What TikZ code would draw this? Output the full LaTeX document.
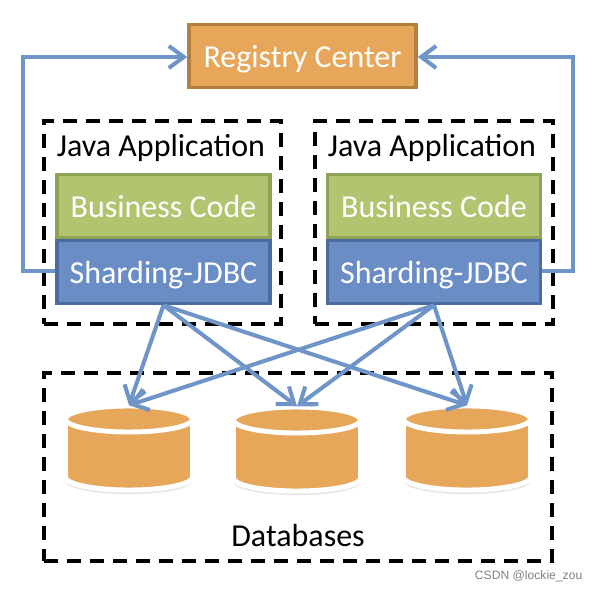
\documentclass[tikz,border=0pt]{standalone}
\usepackage{fontspec}
\setmainfont{Carlito}
\newfontfamily\markfont{Liberation Sans}
\usepackage{tikz}
\usetikzlibrary{positioning,arrows.meta,shadows}
\definecolor{dborange}{HTML}{E7A75B}
\definecolor{regedge}{HTML}{B5803F}
\definecolor{bizgreen}{HTML}{B2C46F}
\definecolor{bizedge}{HTML}{8EA356}
\definecolor{jdbcblue}{HTML}{6A8DC5}
\definecolor{jdbcedge}{HTML}{4A6C9E}
\definecolor{link}{HTML}{6E94C8}
\tikzset{
  layerbox/.style={minimum width=2.13cm, minimum height=0.63cm, line width=1pt, text=white, inner sep=0pt, text height=0.26cm, text depth=0.04cm},
  groupbox/.style={draw=black, line width=1.1pt, dash pattern=on 0.14cm off 0.09cm},
  dbspot/.style={minimum width=1.27cm, minimum height=0.84cm, inner sep=0pt},
  dbdrum/.style={draw=white, fill=dborange, line width=1.4pt, drop shadow={opacity=0.18, shadow xshift=0pt, shadow yshift=-1.2pt}},
  dbrim/.style={draw=white, line width=1.4pt},
  linkline/.style={->, link, line width=1.15pt}
}
\begin{document}
\begin{tikzpicture}[>={Straight Barb[length=1.5mm,width=2.2mm]}, font=\fontsize{9.1}{11}\selectfont]
  \useasboundingbox (0,0) rectangle (5.97,5.91);
  % dashed groups
  \node[groupbox, minimum width=2.37cm, minimum height=2.03cm] (appl) at (1.625,3.685) {};
  \node[groupbox, minimum width=2.38cm, minimum height=2.03cm] (appr) at (4.34,3.685) {};
  \node[groupbox, minimum width=5.08cm, minimum height=1.88cm] (dbs) at (2.98,1.24) {};
  \node (javatl) at (1.61,4.43) {Java Application};
  \node (javatr) at (4.32,4.43) {Java Application};
  % registry
  \node[layerbox, draw=regedge, fill=dborange, minimum width=2.27cm] (reg) at (3.025,5.35) {Registry Center};
  % application layers
  \node[layerbox, draw=bizedge, fill=bizgreen] (bizl) at (1.635,3.85) {Business Code};
  \node[layerbox, draw=bizedge, fill=bizgreen] (bizr) at (4.34,3.85) {Business Code};
  \node[layerbox, draw=jdbcedge, fill=jdbcblue] (jdbcl) at (1.635,3.19) {Sharding-JDBC};
  \node[layerbox, draw=jdbcedge, fill=jdbcblue] (jdbcr) at (4.34,3.19) {Sharding-JDBC};
  % databases
  \foreach \name/\px/\py in {dba/1.29/1.43, dbb/2.97/1.42, dbc/4.67/1.43} {
    \node[dbspot] (\name) at (\px,\py) {};
    \draw[dbdrum] ([shift={(-0.635,0.29)}]\name.center) -- ++(0,-0.58)
      arc[start angle=180, end angle=360, x radius=0.635, y radius=0.13] -- ++(0,0.58)
      arc[start angle=0, end angle=180, x radius=0.635, y radius=0.13] -- cycle;
    \draw[dbrim] ([shift={(-0.635,0.29)}]\name.center) arc[start angle=180, end angle=360, x radius=0.635, y radius=0.13];
  }
  \node (dblabel) at (2.98,0.55) {Databases};
  \node[font=\fontsize{3.45}{5}\selectfont\markfont, text=black!50, anchor=east, inner sep=0pt] (mark) at (5.83,0.15) {CSDN @lockie\_zou};
  % links
  \coordinate (cornerl) at (0.23,3.2);
  \coordinate (cornerlt) at (0.23,5.34);
  \coordinate (cornerr) at (5.73,3.2);
  \coordinate (cornerrt) at (5.73,5.34);
  \draw[linkline] (jdbcl.west |- cornerl) -- (cornerl) -- (cornerlt) -- (reg.west |- cornerlt);
  \draw[linkline] (jdbcr.east |- cornerr) -- (cornerr) -- (cornerrt) -- (reg.east |- cornerrt);
  \foreach \src in {jdbcl,jdbcr}
    \foreach \dst in {dba,dbb,dbc}
      \draw[linkline] (\src.south) -- (\dst.north);
\end{tikzpicture}
\end{document}
